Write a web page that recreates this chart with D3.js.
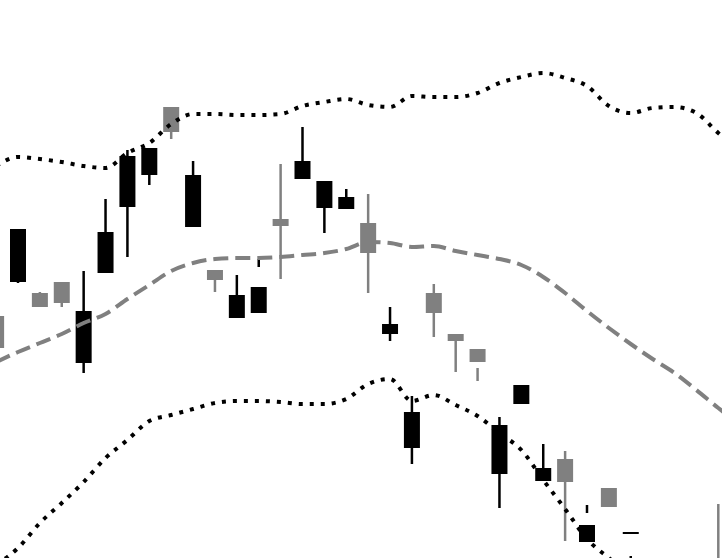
<!DOCTYPE html>
<html>
<head>
<meta charset="utf-8">
<script src="https://cdn.jsdelivr.net/npm/d3@7"></script>
<style>
  html, body { margin: 0; padding: 0; background: #fff; }
  svg { display: block; }
</style>
</head>
<body>
<svg id="chart" width="722" height="558"></svg>
<script>
// candle data, one entry per session (index -1 .. 32)
const days  = d3.range(-1, 33);
const open  = [25.2, 37.1, 29.3, 29.7, 28.9, 36.8, 44.4, 45.2, 46.8, 42.5, 32.0, 30.5, 31.3, 37.4, 43.9, 41.9, 40.3,
               34.7, 27.6, 18.8, 28.7, 25.9, 23.8, 17.5, 21.5, 13.2, 11.8, 7.5, 9.3, 6.8, 3.0, 0.5, 2.0, 0.0];
const close = [28.4, 31.8, 30.7, 31.8, 23.7, 32.7, 39.3, 42.5, 49.3, 37.3, 33.0, 28.2, 28.7, 38.1, 42.1, 39.2, 39.1,
               37.7, 26.6, 15.2, 30.7, 26.6, 25.1, 12.6, 19.6, 11.9, 14.1, 5.8, 11.2, 6.6, 1.0, 2.0, 0.5, 3.0];
const high  = [28.4, 37.1, 30.8, 31.8, 32.9, 40.1, 45.0, 45.2, 49.3, 43.9, 33.0, 32.5, 34.1, 43.6, 47.3, 41.9, 41.1,
               40.6, 29.3, 20.4, 31.6, 26.6, 23.2, 18.3, 21.5, 15.6, 14.9, 9.5, 11.2, 4.4, 3.5, 2.5, 2.8, 9.6];
const low   = [25.2, 31.7, 29.3, 29.3, 22.7, 32.7, 34.3, 41.5, 46.1, 37.3, 30.8, 28.2, 33.3, 32.1, 42.1, 36.7, 39.1,
               30.7, 25.9, 13.6, 26.3, 22.8, 21.9, 9.2, 19.6, 11.9, 5.9, 8.7, 9.3, 0.0, 0.5, 0.0, -0.5, -2.0];

// bollinger bands (index -1 .. 33)
const bandDays = d3.range(-1, 34);
const upper = [43.4, 44.3, 44.1, 43.8, 43.4, 43.2, 44.7, 45.7, 47.6, 48.6, 48.6, 48.5, 48.5, 48.6, 49.4, 49.8, 50.1,
               49.5, 49.3, 50.4, 50.3, 50.3, 50.7, 51.7, 52.3, 52.7, 52.2, 51.4, 49.4, 48.7, 49.2, 49.3, 48.7, 46.7, 45.0];
const middle = [23.8, 24.8, 25.7, 26.6, 27.7, 28.6, 30.1, 31.5, 32.9, 33.7, 34.1, 34.2, 34.2, 34.3, 34.5, 34.7, 35.1,
               35.8, 35.7, 35.3, 35.4, 34.9, 34.5, 34.1, 33.5, 32.3, 30.7, 28.9, 27.2, 25.6, 24.1, 22.7, 21.0, 19.2, 17.5];
const lower = [3.5, 5.2, 7.7, 9.7, 11.8, 14.2, 16.0, 17.9, 18.5, 19.1, 19.7, 19.9, 19.9, 19.8, 19.6, 19.6, 20.1,
               21.6, 22.1, 19.9, 20.5, 19.5, 18.4, 16.7, 15.0, 12.0, 9.1, 6.1, 4.2, 2.5, 1.0, 0.0, -1.0, -2.0, -3.0];

const svg = d3.select("svg#chart");

const x = d3.scaleLinear().domain([0, 32]).range([18, 718.3]);
const y = d3.scaleLinear().domain([0, 60]).range([600, 0]);

const candleWidth = 16;
const candles = days.map((d, i) => ({
  day: d, open: open[i], close: close[i], high: high[i], low: low[i]
}));

const colorOf = d => d.close < d.open ? "#000000" : "#808080";

const plot = svg.append("g");

// wicks
plot.selectAll("line.wick").data(candles)
  .join("line")
  .attr("class", "wick")
  .attr("x1", d => x(d.day))
  .attr("x2", d => x(d.day))
  .attr("y1", d => y(d.high))
  .attr("y2", d => y(d.low))
  .attr("stroke", colorOf)
  .attr("stroke-width", 2.5);

// bodies
plot.selectAll("rect.body").data(candles)
  .join("rect")
  .attr("class", "body")
  .attr("x", d => x(d.day) - candleWidth / 2)
  .attr("y", d => y(Math.max(d.open, d.close)))
  .attr("width", candleWidth)
  .attr("height", d => Math.max(1.5, Math.abs(y(d.open) - y(d.close))))
  .attr("fill", colorOf);

// bands on top
const band = vals => d3.line()
  .x((d, i) => x(bandDays[i]))
  .y(d => y(d))
  .curve(d3.curveMonotoneX)(vals);

plot.append("path")
  .attr("d", band(middle))
  .attr("fill", "none")
  .attr("stroke", "#808080")
  .attr("stroke-width", 4)
  .attr("stroke-dasharray", "15,7");

[upper, lower].forEach(vals => {
  plot.append("path")
    .attr("d", band(vals))
    .attr("fill", "none")
    .attr("stroke", "#000000")
    .attr("stroke-width", 4)
    .attr("stroke-dasharray", "4,7");
});
</script>
</body>
</html>
